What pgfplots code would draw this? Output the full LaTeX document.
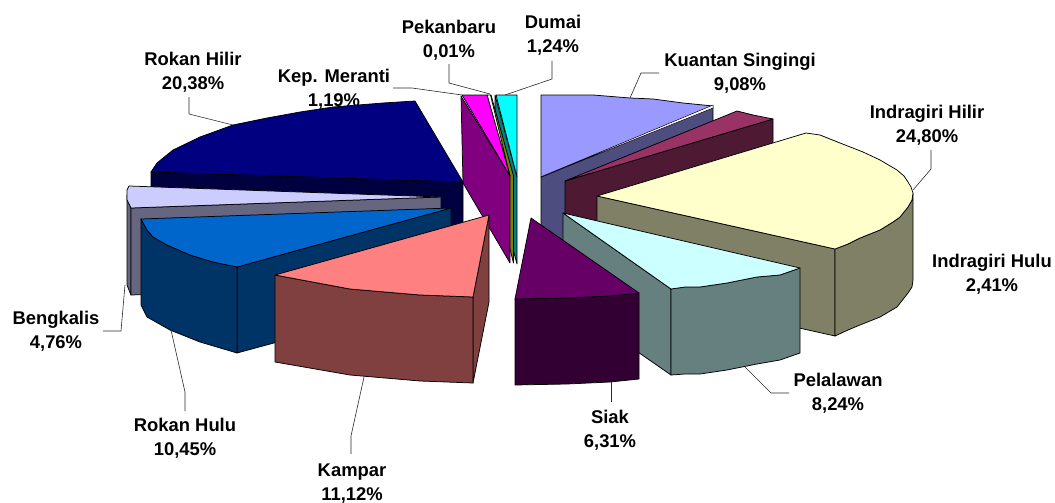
\documentclass[border=0pt]{standalone}
\usepackage{pgfplots}
\pgfplotsset{compat=1.18}
\usepackage{fontspec}
\setmainfont{Liberation Sans}
\definecolor{ldr}{RGB}{40,40,40}
\tikzset{lab/.style={font=\fontsize{18.4}{24}\selectfont\bfseries,align=center,inner sep=0pt,text=black}}
\begin{document}
\begin{tikzpicture}
\path[use as bounding box] (0,0) rectangle (1055pt,503pt);
\begin{axis}[at={(0,0)},anchor=south west,scale only axis,width=1055pt,height=503pt,xmin=0,xmax=1055,ymin=0,ymax=503,y dir=reverse,hide axis,clip=false,
  every axis plot/.append style={no marks,line width=0.75pt,line join=round,draw=black}]
% label beneath the slices
\node[lab] at (axis cs:334,89) {Kep. Meranti\\1,19\%};
% Kuantan Singingi
\addplot[fill={rgb,255:red,77;green,77;blue,128}] coordinates {(541,177)(713,107)(713,194)(541,264)} --cycle;
\addplot[fill={rgb,255:red,153;green,153;blue,255}] coordinates {(541,95)(593,95)(630,98)(653,99)(683,103)(713,106)(541,177)} --cycle;
\addplot[fill=white,line width=0.5pt] coordinates {(541,177)(713,105)(713,108)} --cycle;
% Indragiri Hulu
\addplot[fill={rgb,255:red,77;green,25;blue,51}] coordinates {(565,181)(773,119)(773,206)(565,268)} --cycle;
\addplot[fill={rgb,255:red,153;green,51;blue,102}] coordinates {(565,181)(737,111)(753,115)(773,119)} --cycle;
% Indragiri Hilir
\addplot[fill={rgb,255:red,128;green,128;blue,102}] coordinates {(597,196)(835,249)(835,336)(597,283)} --cycle;
\addplot[fill={rgb,255:red,128;green,128;blue,102}] coordinates {(835,249)(848,244)(860,238)(870,234)(880,230)(893,222)(900,217)(908,207)(912,200)(913,193)(913,280)(912,287)(908,293)(897,307)(880,317)(860,325)(848,330)(835,336)} --cycle;
\addplot[fill={rgb,255:red,255;green,255;blue,204}] coordinates {(597,196)(806,133)(820,135)(840,143)(863,152)(880,160)(897,170)(904,176)(908,182)(911,187)(913,193)(912,200)(908,207)(900,217)(893,222)(880,230)(870,234)(860,238)(848,244)(835,249)} --cycle;
% Pelalawan
\addplot[fill={rgb,255:red,102;green,128;blue,128}] coordinates {(563,213)(671,289)(671,375)(563,300)} --cycle;
\addplot[fill={rgb,255:red,102;green,128;blue,128}] coordinates {(671,289)(685,287)(700,287)(727,283)(757,277)(780,275)(800,268)(800,353)(780,360)(757,364)(727,370)(700,374)(685,374)(671,375)} --cycle;
\addplot[fill={rgb,255:red,204;green,255;blue,255}] coordinates {(563,213)(800,268)(780,275)(757,277)(727,283)(700,287)(685,287)(671,289)} --cycle;
% Siak
\addplot[fill={rgb,255:red,51;green,0;blue,51}] coordinates {(515,299)(567,298)(610,296)(639,293)(639,379)(610,382)(567,384)(515,385)} --cycle;
\addplot[fill={rgb,255:red,102;green,0;blue,102}] coordinates {(531,218)(639,293)(610,296)(567,298)(515,299)} --cycle;
% Dumai
\addplot[fill={rgb,255:red,0;green,128;blue,128}] coordinates {(495,95)(517,177)(517,264)(514,253)(495,182)} --cycle;
\addplot[fill={rgb,255:red,0;green,255;blue,255}] coordinates {(496,95)(517,95)(517,177)} --cycle;
% Pekanbaru
\addplot[fill={rgb,255:red,128;green,128;blue,0}] coordinates {(491,95)(513.5,176)(513.5,263)(511,253)(491,182)} --cycle;
\addplot[fill=white] coordinates {(487,95)(490.5,95)(510,176)} --cycle;
% Kep. Meranti
\addplot[fill={rgb,255:red,128;green,0;blue,128}] coordinates {(461,96)(510,176)(510,263)(463,183)} --cycle;
\addplot[fill={rgb,255:red,255;green,0;blue,255}] coordinates {(462,95)(487,95)(510,176)} --cycle;
% Rokan Hilir
\addplot[fill={rgb,255:red,0;green,0;blue,64}] coordinates {(151,172)(463,182)(463,269)(151,259)} --cycle;
\addplot[fill={rgb,255:red,0;green,0;blue,128}] coordinates {(463,182)(415,101)(383,103)(333,107)(300,112)(267,118)(233,125)(200,137)(173,150)(157,163)(151,172)} --cycle;
% Bengkalis
\addplot[fill={rgb,255:red,102;green,102;blue,128}] coordinates {(127,195)(131,208)(131,295)(127,285)} --cycle;
\addplot[fill={rgb,255:red,102;green,102;blue,128}] coordinates {(131,208)(441,197)(441,284)(131,295)} --cycle;
\addplot[fill={rgb,255:red,204;green,204;blue,255}] coordinates {(441,197)(129,186)(127,190)(127,200)(131,208)} --cycle;
% Rokan Hulu
\addplot[fill={rgb,255:red,0;green,51;blue,102}] coordinates {(237,267)(451,208)(451,295)(237,353)} --cycle;
\addplot[fill={rgb,255:red,0;green,51;blue,102}] coordinates {(141,219)(147,230)(153,237)(167,245)(190,255)(213,262)(237,267)(237,353)(227,350)(200,342)(170,330)(147,317)(141,305)} --cycle;
\addplot[fill={rgb,255:red,0;green,102;blue,204}] coordinates {(141,219)(451,208)(237,267)(213,262)(190,255)(167,245)(153,237)(147,230)} --cycle;
% Kampar
\addplot[fill={rgb,255:red,128;green,64;blue,64}] coordinates {(489,215)(489,302)(473,383)(473,297)} --cycle;
\addplot[fill={rgb,255:red,128;green,64;blue,64}] coordinates {(275,275)(350,289)(420,295)(473,297)(473,383)(420,381)(350,375)(275,362)} --cycle;
\addplot[fill={rgb,255:red,255;green,128;blue,128}] coordinates {(489,215)(275,275)(350,289)(420,295)(473,297)} --cycle;
% leader lines
\addplot[draw=ldr,line width=0.6pt] coordinates {(552,61)(552,79)(505,95)};
\addplot[draw=ldr,line width=0.6pt] coordinates {(449,64)(449,83)(490,94)};
\addplot[draw=ldr,line width=0.6pt] coordinates {(393,88)(412,88)(462,95)};
\addplot[draw=ldr,line width=0.6pt] coordinates {(659,73)(641,73)(630,98)};
\addplot[draw=ldr,line width=0.6pt] coordinates {(931,150)(931,169)(913,190)};
\addplot[draw=ldr,line width=0.6pt] coordinates {(789,393)(771,393)(745,367)};
\addplot[draw=ldr,line width=0.6pt] coordinates {(611,382)(611,402)};
\addplot[draw=ldr,line width=0.6pt] coordinates {(364,377)(351,436)(351,454)};
\addplot[draw=ldr,line width=0.6pt] coordinates {(171,330)(185,392)(185,411)};
\addplot[draw=ldr,line width=0.6pt] coordinates {(125,285)(121,331)(103,331)};
\addplot[draw=ldr,line width=0.6pt] coordinates {(233,125)(189,114)(189,97)};
% labels
\node[lab] at (axis cs:449,40) {Pekanbaru\\0,01\%};
\node[lab] at (axis cs:553,35.5) {Dumai\\1,24\%};
\node[lab] at (axis cs:740,73) {Kuantan Singingi\\9,08\%};
\node[lab] at (axis cs:927,125) {Indragiri Hilir\\24,80\%};
\node[lab] at (axis cs:992,274) {Indragiri Hulu\\2,41\%};
\node[lab] at (axis cs:838,393) {Pelalawan\\8,24\%};
\node[lab] at (axis cs:610,430) {Siak\\6,31\%};
\node[lab] at (axis cs:352,484) {Kampar\\11,12\%};
\node[lab] at (axis cs:185,438) {Rokan Hulu\\10,45\%};
\node[lab] at (axis cs:56,331) {Bengkalis\\4,76\%};
\node[lab] at (axis cs:193,72) {Rokan Hilir\\20,38\%};
\end{axis}
\end{tikzpicture}
\end{document}
